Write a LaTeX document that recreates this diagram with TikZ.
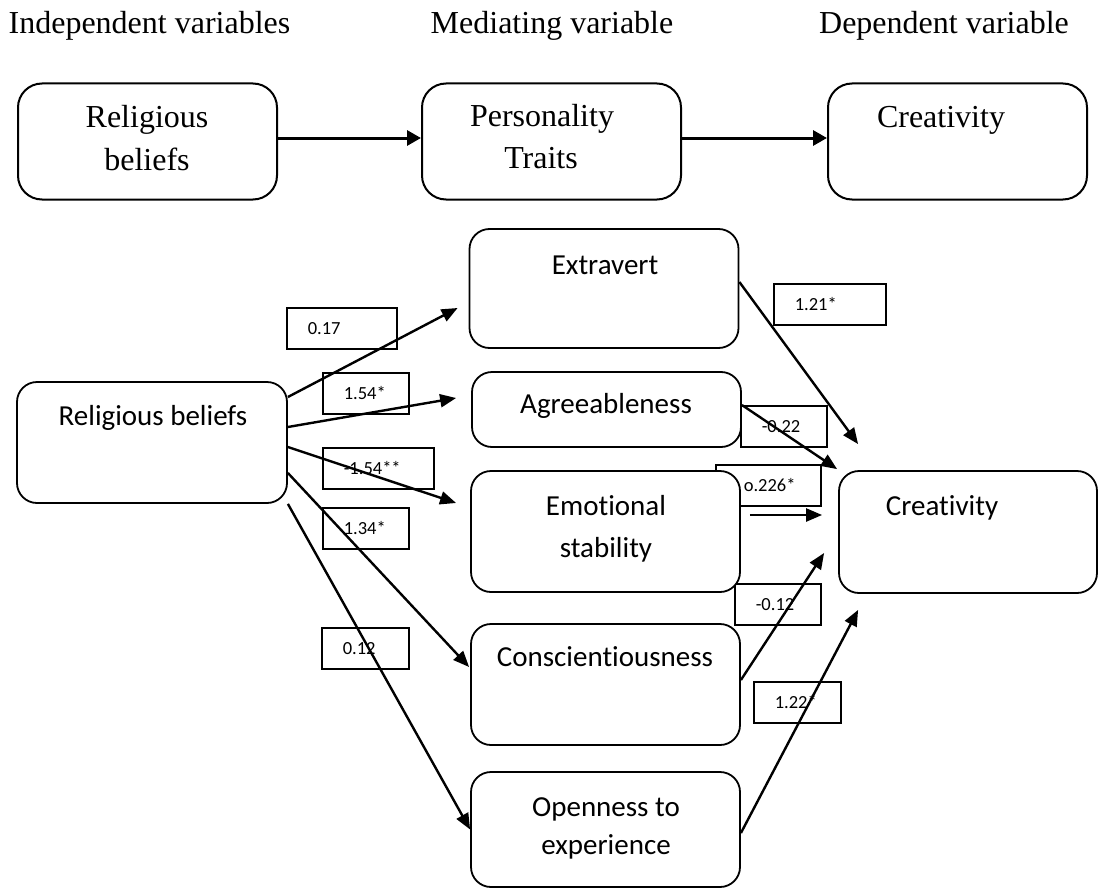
\documentclass[tikz,border=0pt]{standalone}
\usepackage{fontspec}
\setmainfont{Liberation Serif}
\newfontfamily\calib[Ligatures=NoCommon]{Carlito}
\usetikzlibrary{arrows.meta, positioning}

\begin{document}
\begin{tikzpicture}[x=1pt, y=-1pt,
    head/.style={font=\fontsize{32}{36}\selectfont, anchor=base},
    topbox/.style={
        draw, line width=2pt, rounded corners=24pt,
        minimum width=259pt, minimum height=116pt,
    },
    toptext/.style={font=\fontsize{32}{36}\selectfont, anchor=base},
    mainbox/.style={
        draw, fill=white, line width=1.8pt, rounded corners=20pt,
        minimum width=269pt, minimum height=#1,
    },
    maintext/.style={font=\calib\fontsize{29}{33}\selectfont, anchor=base},
    coefbox/.style={
        draw, fill=white, line width=1.6pt, anchor=north west,
        minimum height=41pt, inner xsep=21pt, inner ysep=0pt,
        text width=#1, align=left,
        font=\calib\fontsize{18.5}{20}\selectfont,
    },
    toparr/.style={line width=3pt, -{Triangle[length=14pt,width=15pt]}},
    arr/.style={line width=2.4pt, -{Triangle[length=16pt,width=13pt]}},
]
\useasboundingbox (0,0) rectangle (1099,888);

% Column headers
\node[head] (hInd) at (149.5, 34) {Independent variables};
\node[head] (hMed) at (552, 34) {Mediating variable};
\node[head] (hDep) at (944, 34) {Dependent variable};

% ── Overview row ──────────────────────────────────────────────────────
\node[topbox] (rbTop) at (147.5, 141.5) {};
\node[topbox] (ptTop) at (551.5, 141.5) {};
\node[topbox] (crTop) at (957.5, 141.5) {};

\node[toptext] at (147, 128) {Religious};
\node[toptext] at (147, 170) {beliefs};
\node[toptext] at (542, 127) {Personality};
\node[toptext] at (541, 168) {Traits};
\node[toptext] at (941, 128) {Creativity};

\draw[toparr] ([yshift=3.5pt]rbTop.east) -- ([yshift=3.5pt]ptTop.west);
\draw[toparr] ([yshift=3.5pt]ptTop.east) -- ([yshift=3.5pt]crTop.west);

% ── Coefficients ──────────────────────────────────────────────────────
\node[coefbox=68] (cExt) at (286, 307) {0.17};
\node[coefbox=44] (cAgr) at (322, 372) {1.54*};
\node[coefbox=69] (cEmo) at (322, 447) {-1.54**};
\node[coefbox=44] (cCon) at (322, 507) {1.34*};
\node[coefbox=45] (cOpe) at (321, 627) {0.12};
\node[coefbox=70] (cExtCr) at (773, 283) {1.21*};
\node[coefbox=44] (cAgrCr) at (740, 405) {-0.22};
\node[coefbox=63] (cEmoCr) at (715, 464) {\hspace*{7pt}o.226*};
\node[coefbox=44] (cConCr) at (734, 583) {-0.12};
\node[coefbox=45] (cOpeCr) at (753, 681) {1.22*};

% ── Model boxes ───────────────────────────────────────────────────────
\node[mainbox=121pt, minimum width=270pt] (rb) at (152, 442.5) {};
\node[mainbox=119pt] (ext) at (604, 288.5) {};
\node[mainbox=75pt]  (agr) at (606.5, 409.5) {};
\node[mainbox=121pt] (emo) at (605.5, 531.5) {};
\node[mainbox=121pt] (con) at (605.5, 684.5) {};
\node[mainbox=115pt] (ope) at (605.5, 829.5) {};
\node[mainbox=122pt, minimum width=258pt] (cr) at (968, 532) {};

\node[maintext] at (153, 425) {Religious beliefs};
\node[maintext] at (605, 274) {Extravert};
\node[maintext] at (606, 413) {Agreeableness};
\node[maintext] at (606, 515) {Emotional};
\node[maintext] at (606, 557) {stability};
\node[maintext] at (605, 666) {Conscientiousness};
\node[maintext] at (606, 816) {Openness to};
\node[maintext] at (606, 854) {experience};
\node[maintext] at (942, 515) {Creativity};

% ── Paths ─────────────────────────────────────────────────────────────
\draw[arr] ([yshift=45.5pt]rb.east) -- ([xshift=-11pt,yshift=-19.5pt]ext.west);
\draw[arr] ([yshift=15.5pt]rb.east) -- ([xshift=-15pt,yshift=11.5pt]agr.west);
\draw[arr] ([yshift=-4.5pt]rb.east) -- ([xshift=-14pt,yshift=28.5pt]emo.west);
\draw[arr] ([yshift=-30.5pt]rb.east) -- ([xshift=-1pt,yshift=17.5pt]con.west);
\draw[arr] (rb.south east) -- (ope.west);

\draw[arr] ([yshift=6.5pt]ext.east) -- ([xshift=20pt,yshift=26pt]cr.north west);
\draw[arr] ([yshift=4.5pt]agr.east) -- ([xshift=-1pt,yshift=1pt]cr.north west);
\draw[arr] ([xshift=9pt,yshift=16.5pt]emo.east) -- ([xshift=-16pt,yshift=17pt]cr.west);
\draw[arr] ([yshift=4.5pt]con.east) -- ([xshift=-14pt,yshift=-21pt]cr.west);
\draw[arr] ([yshift=-3.5pt]ope.east) -- ([xshift=20pt,yshift=-16pt]cr.south west);

\end{tikzpicture}
\end{document}
